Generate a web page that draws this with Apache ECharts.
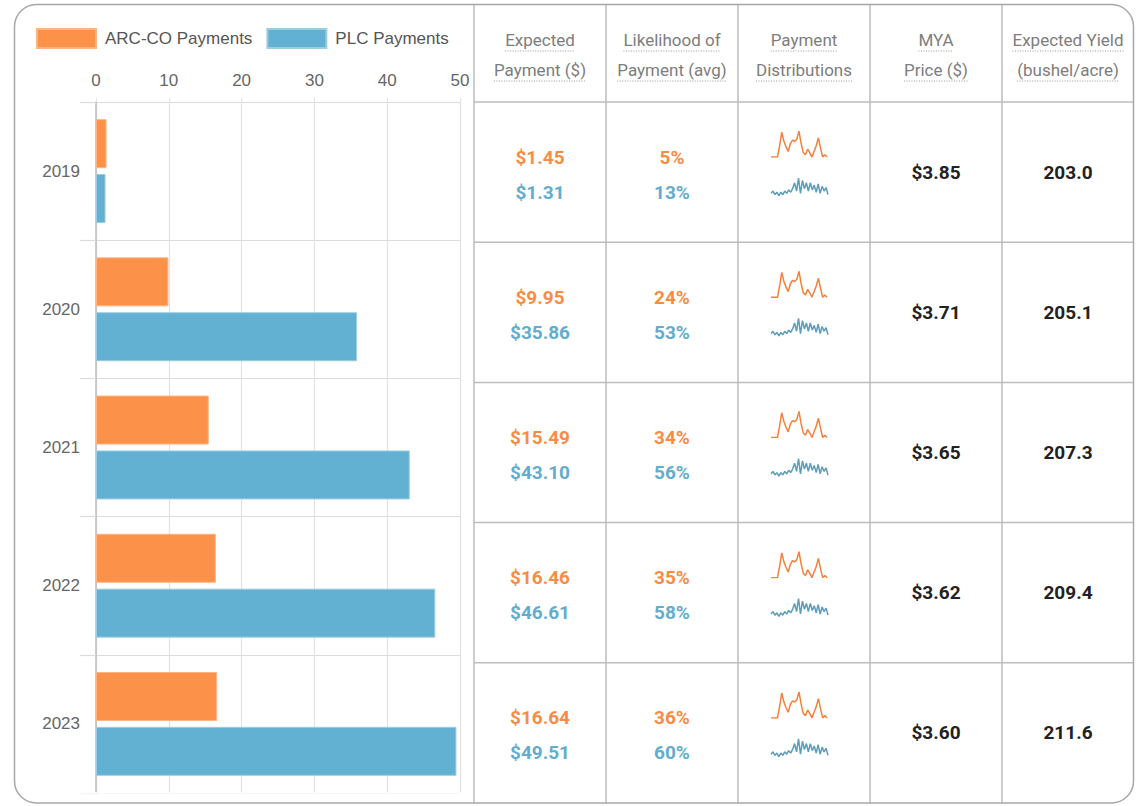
<!DOCTYPE html>
<html>
<head>
<meta charset="utf-8">
<script src="https://cdn.jsdelivr.net/npm/echarts@6/dist/echarts.min.js"></script>
<style>
html,body{margin:0;padding:0;background:#fff;}
#c{width:1138px;height:806px;}
</style>
</head>
<body>
<div id="c"></div>
<script>
// ---------- data ----------
var years = ['2019', '2020', '2021', '2022', '2023'];
var arcPayments = [1.45, 9.95, 15.49, 16.46, 16.64];
var plcPayments = [1.31, 35.86, 43.10, 46.61, 49.51];
var arcLikelihood = [5, 24, 34, 35, 36];
var plcLikelihood = [13, 53, 56, 58, 60];
var myaPrice = [3.85, 3.71, 3.65, 3.62, 3.60];
var expectedYield = [203.0, 205.1, 207.3, 209.4, 211.6];
var legendNames = ['ARC-CO Payments', 'PLC Payments'];
var headerLines = [
  ['Expected', 'Payment ($)'],
  ['Likelihood of', 'Payment (avg)'],
  ['Payment', 'Distributions'],
  ['MYA', 'Price ($)'],
  ['Expected Yield', '(bushel/acre)']
];
// sparkline (payment distribution) shapes, same for each year
var arcDist = [0, 0, 0, 0, 10, 22, 14, 9, 5, 12, 15, 14, 16, 23, 12, 4, 2, 7, 4, 0, 5, 10, 17, 8, 0, 2, 0];
var plcDist = [4, 6, 3, 5, 2, 5, 3, 6, 4, 7, 5, 8, 13, 6, 17, 4, 15, 8, 13, 6, 13, 7, 11, 5, 12, 4, 10, 6, 9, 3];

// ---------- style ----------
var ORANGE = '#FC914A', BLUE = '#63B1D2';
var ORANGE_T = '#F98C45', BLUE_T = '#62ADCF';
var ORANGE_S = '#F4803A', BLUE_S = '#5B9DBB';
var LINE = '#bdbdbd';
var colX = [474, 606, 738, 870, 1002, 1134];
var headTop = 5, headBottom = 102, tableBottom = 803;
var rowH = (tableBottom - headBottom) / years.length;

var chart = echarts.init(document.getElementById('c'), null, {renderer: 'svg'});

var measureCtx = document.createElement('canvas').getContext('2d');
function textW(t, font) { measureCtx.font = font; return measureCtx.measureText(t).width; }

var graphics = [];
// hide the closing category split line at the bottom of the bar grid
graphics.push({type: 'line', shape: {x1: 76, y1: 793, x2: 470, y2: 793},
  style: {stroke: '#fff', lineWidth: 1.6}, z: 4});
// outer border
graphics.push({type: 'rect', shape: {x: 14.5, y: 4.5, width: 1119, height: 798.5, r: 22},
  style: {fill: 'none', stroke: '#a8a8a8', lineWidth: 1.5}, z: 10});
// table vertical lines
for (var i = 0; i < 5; i++) {
  graphics.push({type: 'line', shape: {x1: colX[i], y1: headTop, x2: colX[i], y2: tableBottom},
    style: {stroke: LINE, lineWidth: 1.5}, z: 5});
}
// table horizontal lines
for (var r = 0; r < years.length; r++) {
  var yy = headBottom + r * rowH;
  graphics.push({type: 'line', shape: {x1: colX[0], y1: yy, x2: 1133, y2: yy},
    style: {stroke: LINE, lineWidth: 1.5}, z: 5});
}
// headers
var headFont = '17px Roboto';
headerLines.forEach(function (lines, c) {
  var cx = (colX[c] + colX[c + 1]) / 2;
  lines.forEach(function (t, k) {
    var y = 40 + k * 30;
    graphics.push({type: 'text', style: {text: t, x: cx, y: y, font: headFont, fill: '#7d7d7d',
      align: 'center', verticalAlign: 'middle'}});
    var w = textW(t, headFont);
    graphics.push({type: 'line', shape: {x1: cx - w / 2, y1: y + 11, x2: cx + w / 2, y2: y + 11},
      style: {stroke: '#9a9a9a', lineWidth: 1, lineDash: [1, 1.5]}});
  });
});
// cell values
var valFont = 'bold 19px Roboto';
years.forEach(function (yr, r) {
  var cy = headBottom + rowH * (r + 0.5);
  var c0 = (colX[0] + colX[1]) / 2, c1 = (colX[1] + colX[2]) / 2,
      c3 = (colX[3] + colX[4]) / 2, c4 = (colX[4] + colX[5]) / 2;
  function txt(t, x, y, col) {
    graphics.push({type: 'text', style: {text: t, x: x, y: y, font: valFont, fill: col,
      align: 'center', verticalAlign: 'middle'}});
  }
  txt('$' + arcPayments[r].toFixed(2), c0, cy - 15, ORANGE_T);
  txt('$' + plcPayments[r].toFixed(2), c0, cy + 20, BLUE_T);
  txt(arcLikelihood[r] + '%', c1, cy - 15, ORANGE_T);
  txt(plcLikelihood[r] + '%', c1, cy + 20, BLUE_T);
  txt('$' + myaPrice[r].toFixed(2), c3, cy, '#222');
  txt(expectedYield[r].toFixed(1), c4, cy, '#222');
});

// ---------- grids / axes / series ----------
var grids = [{left: 96, right: 678, top: 102, bottom: 13}];
var xAxes = [{
  type: 'value', gridIndex: 0, position: 'top', min: 0, max: 50, interval: 10,
  axisLine: {show: false},
  axisTick: {show: true, length: 4, lineStyle: {color: '#e2e2e2'}},
  axisLabel: {color: '#666', fontSize: 17, fontFamily: 'Liberation Sans', margin: 13},
  splitLine: {show: true, lineStyle: {color: '#e2e2e2', width: 1.2}}
}];
var yAxes = [{
  type: 'category', gridIndex: 0, data: years, inverse: true,
  axisLine: {show: true, lineStyle: {color: '#bdbdbd', width: 1.5}},
  axisTick: {show: true, length: 16, lineStyle: {color: '#dcdcdc', width: 1.2}},
  axisLabel: {color: '#666', fontSize: 17, fontFamily: 'Liberation Sans', margin: 16},
  splitLine: {show: true, lineStyle: {color: '#dcdcdc', width: 1.2}}
}];
var series = [
  {name: legendNames[0], type: 'bar', xAxisIndex: 0, yAxisIndex: 0, data: arcPayments,
   barWidth: 49, barGap: '12%', itemStyle: {color: ORANGE, borderColor: '#fdb485', borderWidth: 1}},
  {name: legendNames[1], type: 'bar', xAxisIndex: 0, yAxisIndex: 0, data: plcPayments,
   barWidth: 49, barGap: '12%', itemStyle: {color: BLUE, borderColor: '#9ccde2', borderWidth: 1}}
];
var arcMax = Math.max.apply(null, arcDist), plcMax = Math.max.apply(null, plcDist);
years.forEach(function (yr, r) {
  var cy = headBottom + rowH * (r + 0.5);
  [[arcDist, cy - 41, 26, 56, arcMax, ORANGE_S], [plcDist, cy + 6, 20, 57, plcMax, BLUE_S]].forEach(function (s) {
    var gi = grids.length;
    grids.push({left: 771, top: s[1], width: s[3], height: s[2]});
    xAxes.push({type: 'category', gridIndex: gi, show: false, boundaryGap: false,
      data: s[0].map(function (v, k) { return k; })});
    yAxes.push({type: 'value', gridIndex: gi, show: false, min: 0, max: s[4]});
    series.push({type: 'line', xAxisIndex: gi, yAxisIndex: gi, data: s[0], symbol: 'none',
      silent: true, lineStyle: {color: s[5], width: 1.5}});
  });
});

chart.setOption({
  animation: false,
  legend: {
    data: legendNames, left: 31, top: 23, itemWidth: 59, itemHeight: 19, itemGap: 14,
    icon: 'rect',
    textStyle: {color: '#555', fontSize: 17, fontFamily: 'Liberation Sans', padding: [0, 0, 0, 4]}
  },
  grid: grids, xAxis: xAxes, yAxis: yAxes, series: series,
  graphic: graphics
});
</script>
</body>
</html>
